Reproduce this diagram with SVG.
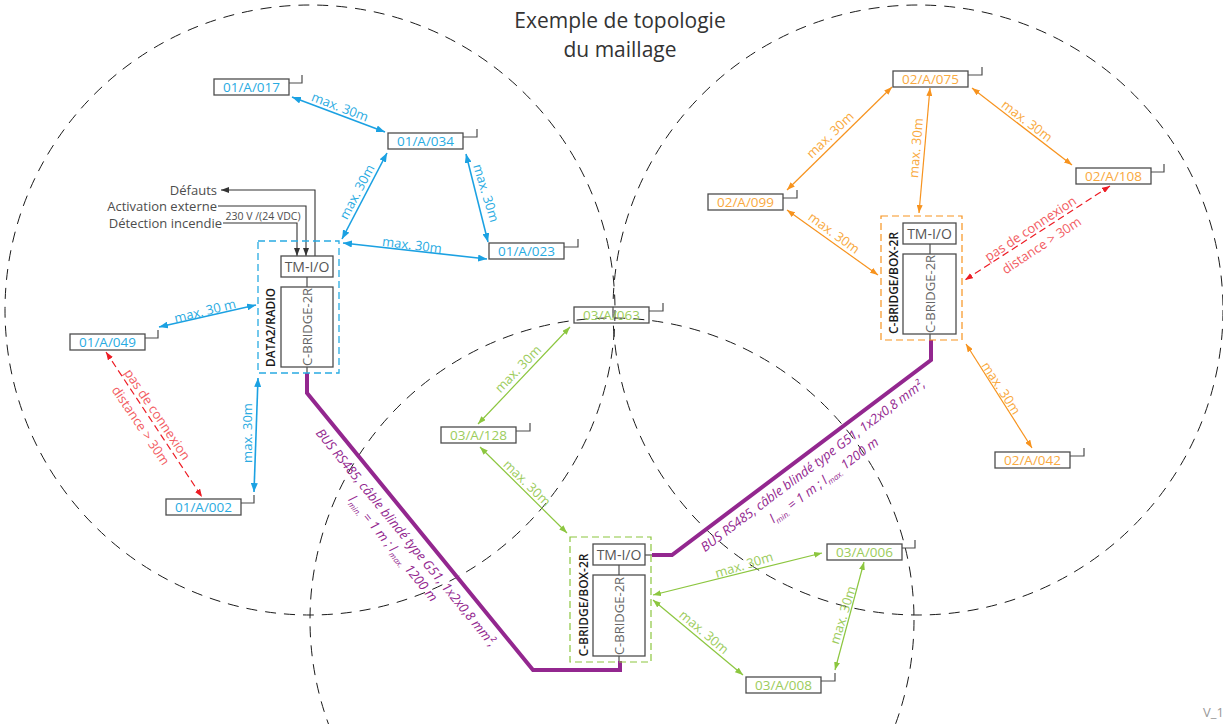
<svg xmlns="http://www.w3.org/2000/svg" width="1223" height="724" viewBox="0 0 1223 724">
<style>
.bg{fill:#fff}
.zone{fill:none;stroke:#1a1a1a;stroke-width:1;stroke-dasharray:11 8}
.dev{fill:none;stroke:#4d4d4d;stroke-width:1.3}
.ant{fill:none;stroke:#4d4d4d;stroke-width:1.2}
.dt{font-family:"Open Sans","Liberation Sans",sans-serif;font-size:13.5px;text-anchor:middle}
.tb{fill:#29abe2}.tg{fill:#9ccc5c}.to{fill:#f9a940}
.lb{font-family:"Open Sans","Liberation Sans",sans-serif;font-size:13px;text-anchor:middle}
.cb{fill:none;stroke:#1ba1e2;stroke-width:1.6;marker-start:url(#ab);marker-end:url(#ab)}
.cg{fill:none;stroke:#8cc63f;stroke-width:1.2;marker-start:url(#ag);marker-end:url(#ag)}
.co{fill:none;stroke:#f7931e;stroke-width:1.2;marker-start:url(#ao);marker-end:url(#ao)}
.cr{fill:none;stroke:#ed1c24;stroke-width:1.2;stroke-dasharray:7 4;marker-start:url(#ar);marker-end:url(#ar)}
.ck{fill:none;stroke:#333;stroke-width:1.1}
.bus{fill:none;stroke:#93278f;stroke-width:4;stroke-linejoin:miter}
.bt{font-family:"Open Sans","Liberation Sans",sans-serif;font-size:13px;font-style:italic;fill:#93278f;text-anchor:middle}
.rt{font-family:"Open Sans","Liberation Sans",sans-serif;font-size:13px;fill:#f25c62;text-anchor:middle}
.box{fill:#fff;stroke:#4d4d4d;stroke-width:1.3}
.thin{stroke:#4d4d4d;stroke-width:1.2}
.tm{font-family:"Open Sans","Liberation Sans",sans-serif;font-size:14px;fill:#555;text-anchor:middle}
.cbt{font-family:"Open Sans","Liberation Sans",sans-serif;font-size:13px;fill:#666;text-anchor:middle}
.nl{font-family:"Open Sans","Liberation Sans",sans-serif;font-size:12px;font-weight:600;fill:#1a1a1a;text-anchor:middle}
.in{font-family:"Open Sans","Liberation Sans",sans-serif;font-size:13px;fill:#4d4d4d;text-anchor:end}
</style>
<defs>
<marker id="ab" markerUnits="userSpaceOnUse" markerWidth="9" markerHeight="7" refX="9" refY="3.5" orient="auto-start-reverse"><path d="M0,0 L9,3.5 L0,7 z" fill="#1ba1e2"/></marker>
<marker id="ag" markerUnits="userSpaceOnUse" markerWidth="8" markerHeight="6" refX="8" refY="3" orient="auto-start-reverse"><path d="M0,0 L8,3 L0,6 z" fill="#8cc63f"/></marker>
<marker id="ao" markerUnits="userSpaceOnUse" markerWidth="8" markerHeight="6" refX="8" refY="3" orient="auto-start-reverse"><path d="M0,0 L8,3 L0,6 z" fill="#f7931e"/></marker>
<marker id="ar" markerUnits="userSpaceOnUse" markerWidth="8" markerHeight="6" refX="8" refY="3" orient="auto-start-reverse"><path d="M0,0 L8,3 L0,6 z" fill="#ed1c24"/></marker>
<marker id="ak" markerUnits="userSpaceOnUse" markerWidth="8" markerHeight="6" refX="8" refY="3" orient="auto"><path d="M0,0 L8,3 L0,6 z" fill="#333"/></marker>
</defs>
<rect class="bg" x="0" y="0" width="1223" height="724"/>

<g id="zones">
<circle class="zone" cx="310" cy="310" r="305"/>
<circle class="zone" cx="918" cy="310" r="305"/>
<circle class="zone" cx="612" cy="620" r="302"/>
</g>

<g id="title" font-family="'Open Sans','Liberation Sans',sans-serif" font-size="21" fill="#333" text-anchor="middle">
<text x="620" y="28">Exemple de topologie</text>
<text x="620" y="57">du maillage</text>
</g>

<g id="connectors">
<line class="cb" x1="292" y1="97" x2="385" y2="132"/>
<line class="cb" x1="387" y1="153" x2="342" y2="239"/>
<line class="cb" x1="466" y1="154" x2="488" y2="242"/>
<line class="cb" x1="343" y1="243" x2="487" y2="259"/>
<line class="cb" x1="159" y1="327" x2="256" y2="305"/>
<line class="cb" x1="254" y1="492" x2="258" y2="378"/>
<line class="cr" x1="106" y1="352" x2="202" y2="497"/>
<line class="cg" x1="570" y1="327" x2="478" y2="424"/>
<line class="cg" x1="480" y1="447" x2="567" y2="533"/>
<line class="cg" x1="653" y1="595" x2="822" y2="553"/>
<line class="cg" x1="653" y1="600" x2="743" y2="675"/>
<line class="cg" x1="864" y1="562" x2="835" y2="670"/>
<line class="co" x1="892" y1="87" x2="787" y2="190"/>
<line class="co" x1="930" y1="88" x2="919" y2="213"/>
<line class="co" x1="972" y1="88" x2="1072" y2="165"/>
<line class="co" x1="787" y1="210" x2="878" y2="275"/>
<line class="co" x1="966" y1="344" x2="1032" y2="448"/>
<line class="cr" x1="1110" y1="186" x2="965" y2="280"/>
<polyline class="ck" points="315,256 315,190 221,190" marker-end="url(#ak)"/>
<polyline class="ck" points="218,206 306,206 306,256" marker-end="url(#ak)"/>
<polyline class="ck" points="223,223 297,223 297,256" marker-end="url(#ak)"/>
<line class="thin" x1="307" y1="367" x2="307" y2="374"/>
<line class="thin" x1="619" y1="656" x2="619" y2="662"/>
<line class="thin" x1="645" y1="555" x2="653" y2="555"/>
<line class="thin" x1="930" y1="334" x2="930" y2="341"/>
<polyline class="bus" points="307,373 307,393 533,670 620,670 620,661"/>
<polyline class="bus" points="652,555 672,555 931,360 931,340"/>

<g class="lb tb">
<text transform="translate(340,107) rotate(21)" y="4.5">max. 30m</text>
<text transform="translate(357,192) rotate(-62)" y="4.5">max. 30m</text>
<text transform="translate(486,193) rotate(73)" y="4.5">max. 30m</text>
<text transform="translate(412,245) rotate(7)" y="4.5">max. 30m</text>
<text transform="translate(205,311) rotate(-14)" y="4.5">max. 30 m</text>
<text transform="translate(247,433) rotate(-90)" y="4.5">max. 30m</text>
</g>
<g class="lb tg">
<text transform="translate(518,369) rotate(-46)" y="4.5">max. 30m</text>
<text transform="translate(527,483) rotate(44)" y="4.5">max. 30m</text>
<text transform="translate(744,565) rotate(-17)" y="4.5">max. 30m</text>
<text transform="translate(704,632) rotate(40)" y="4.5">max. 30m</text>
<text transform="translate(843,615) rotate(-73)" y="4.5">max. 30m</text>
</g>
<g class="lb to">
<text transform="translate(830,135) rotate(-44)" y="4.5">max. 30m</text>
<text transform="translate(916,148) rotate(-85)" y="4.5">max. 30m</text>
<text transform="translate(1027,121) rotate(37)" y="4.5">max. 30m</text>
<text transform="translate(834,233) rotate(36)" y="4.5">max. 30m</text>
<text transform="translate(1001,388) rotate(57)" y="4.5">max. 30m</text>
</g>
<g class="rt" transform="translate(149,420) rotate(56)">
<text y="-5.5">pas de connexion</text>
<text y="14.5">distance &gt; 30m</text>
</g>
<g class="rt" transform="translate(1036,237) rotate(-33.5)">
<text y="-5.5">pas de connexion</text>
<text y="14.5">distance &gt; 30m</text>
</g>
<g class="bt" transform="translate(417.5,528.5) rotate(50.8)">
<text y="19">BUS RS485, câble blindé type G51, 1x2x0,8 mm², </text>
<text y="36">l<tspan font-size="8" dy="3">min.</tspan><tspan dy="-3"> = 1 m ; l</tspan><tspan font-size="8" dy="3">max.</tspan><tspan dy="-3"> 1200 m</tspan></text>
</g>
<g class="bt" transform="translate(805,455) rotate(-37)">
<text y="17.5">BUS RS485, câble blindé type G51, 1x2x0,8 mm², </text>
<text y="36">l<tspan font-size="8" dy="3">min.</tspan><tspan dy="-3"> = 1 m ; l</tspan><tspan font-size="8" dy="3">max.</tspan><tspan dy="-3"> 1200 m</tspan></text>
</g>
<g class="in">
<text x="217" y="194.5">Défauts</text>
<text x="217" y="210.5">Activation externe</text>
<text x="222" y="227.5">Détection incendie</text>
</g>
<text x="263" y="220" font-family="'Open Sans','Liberation Sans',sans-serif" font-size="10.5" fill="#4d4d4d" text-anchor="middle">230 V /(24 VDC)</text>
</g>

<g id="node-data2">
<rect x="258" y="241" width="81" height="132" fill="none" stroke="#29abe2" stroke-width="1.3" stroke-dasharray="7 4"/>
<rect class="box" x="281" y="256" width="52" height="21"/>
<text class="tm" x="307" y="271.5">TM-I/O</text>
<line class="thin" x1="307" y1="277" x2="307" y2="287"/>
<rect class="box" x="281" y="287" width="52" height="80"/>
<text class="cbt" transform="translate(307,327) rotate(-90)" y="4.5">C-BRIDGE-2R</text>
<text class="nl" transform="translate(270,327.5) rotate(-90)" y="4.5" textLength="79" lengthAdjust="spacingAndGlyphs">DATA2/RADIO</text>
</g>

<g id="node-box-green">
<rect x="570" y="537" width="81" height="125" fill="none" stroke="#8cc63f" stroke-width="1.2" stroke-dasharray="7 4"/>
<rect class="box" x="593" y="544" width="52" height="21"/>
<text class="tm" x="619" y="559.5">TM-I/O</text>
<line class="thin" x1="619" y1="565" x2="619" y2="575"/>
<rect class="box" x="593" y="575" width="52" height="81"/>
<text class="cbt" transform="translate(619,616) rotate(-90)" y="4.5">C-BRIDGE-2R</text>
<text class="nl" transform="translate(583,605) rotate(-90)" y="4.5" textLength="103" lengthAdjust="spacingAndGlyphs">C-BRIDGE/BOX-2R</text>
</g>

<g id="node-box-orange">
<rect x="881" y="216" width="81" height="124" fill="none" stroke="#f7931e" stroke-width="1.2" stroke-dasharray="7 4"/>
<rect class="box" x="903" y="223" width="53" height="21"/>
<text class="tm" x="929.5" y="238.5">TM-I/O</text>
<line class="thin" x1="930" y1="244" x2="930" y2="254"/>
<rect class="box" x="903" y="254" width="53" height="80"/>
<text class="cbt" transform="translate(930,294) rotate(-90)" y="4.5">C-BRIDGE-2R</text>
<text class="nl" transform="translate(893,283) rotate(-90)" y="4.5" textLength="102" lengthAdjust="spacingAndGlyphs">C-BRIDGE/BOX-2R</text>
</g>

<g id="dev-01A017"><rect class="dev" x="214" y="79" width="75" height="16"/><polyline class="ant" points="289,83 302,83 302,75"/><text class="dt tb" x="251.5" y="92">01/A/017</text></g>
<g id="dev-01A034"><rect class="dev" x="388" y="133" width="75" height="16"/><polyline class="ant" points="463,137 477,137 477,129"/><text class="dt tb" x="425.5" y="146">01/A/034</text></g>
<g id="dev-01A023"><rect class="dev" x="489" y="243" width="75" height="16"/><polyline class="ant" points="564,247 578,247 578,239"/><text class="dt tb" x="526.5" y="256">01/A/023</text></g>
<g id="dev-01A049"><rect class="dev" x="70" y="334" width="75" height="16"/><polyline class="ant" points="145,338 158,338 158,330"/><text class="dt tb" x="107.5" y="347">01/A/049</text></g>
<g id="dev-01A002"><rect class="dev" x="166" y="499" width="75" height="16"/><polyline class="ant" points="241,503 254,503 254,495"/><text class="dt tb" x="203.5" y="512">01/A/002</text></g>
<g id="dev-03A063"><rect class="dev" x="574" y="307" width="75" height="16"/><polyline class="ant" points="649,311 663,311 663,303"/><text class="dt tg" x="611.5" y="320">03/A/063</text></g>
<g id="dev-03A128"><rect class="dev" x="441" y="427" width="75" height="16"/><polyline class="ant" points="516,431 530,431 530,423"/><text class="dt tg" x="478.5" y="440">03/A/128</text></g>
<g id="dev-03A006"><rect class="dev" x="827" y="544" width="75" height="16"/><polyline class="ant" points="902,548 915,548 915,540"/><text class="dt tg" x="864.5" y="557">03/A/006</text></g>
<g id="dev-03A008"><rect class="dev" x="746" y="677" width="75" height="16"/><polyline class="ant" points="821,681 835,681 835,673"/><text class="dt tg" x="783.5" y="690">03/A/008</text></g>
<g id="dev-02A075"><rect class="dev" x="893" y="71" width="75" height="16"/><polyline class="ant" points="968,75 982,75 982,67"/><text class="dt to" x="930.5" y="84">02/A/075</text></g>
<g id="dev-02A099"><rect class="dev" x="708" y="194" width="75" height="16"/><polyline class="ant" points="783,198 797,198 797,190"/><text class="dt to" x="745.5" y="207">02/A/099</text></g>
<g id="dev-02A108"><rect class="dev" x="1076" y="168" width="75" height="16"/><polyline class="ant" points="1151,172 1164,172 1164,164"/><text class="dt to" x="1113.5" y="181">02/A/108</text></g>
<g id="dev-02A042"><rect class="dev" x="995" y="452" width="75" height="16"/><polyline class="ant" points="1070,456 1084,456 1084,448"/><text class="dt to" x="1032.5" y="465">02/A/042</text></g>

<text x="1203" y="717" font-family="'Open Sans','Liberation Sans',sans-serif" font-size="13" fill="#999">V_1</text>
</svg>
